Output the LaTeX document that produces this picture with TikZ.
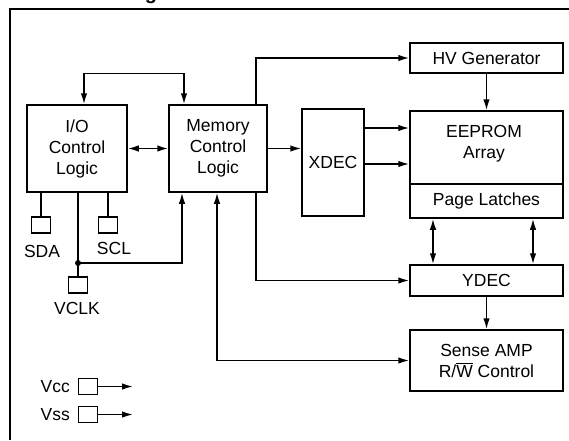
\documentclass[tikz,border=0pt]{standalone}
\usepackage{fontspec}
\setmainfont{Liberation Sans}
\usetikzlibrary{arrows.meta,positioning}

\tikzset{
  blk/.style={draw, inner sep=0pt, align=center},
  pinbox/.style={draw, minimum width=19pt, minimum height=16pt, inner sep=0pt},
}

\begin{document}
\begin{tikzpicture}[x=1pt, y=-1pt, line width=1.5pt,
    >={Latex[length=11pt,width=6.5pt]},
    font=\fontsize{17.5}{21}\selectfont]

  \useasboundingbox (0,0) rectangle (569,440);

  % ── Title and frame ───────────────────────────────────────────────────
  \node[anchor=base west, inner sep=0pt,
        font=\bfseries\fontsize{20}{24}\selectfont] (title) at (53,-1) {Block Diagram};
  \draw (10,440) -- (10,9) -- (569,9);

  % ── Logic blocks ──────────────────────────────────────────────────────
  \node[blk, minimum width=100pt, minimum height=87pt] (io)  at (77,148.5)  {I/O\\Control\\Logic};
  \node[blk, minimum width=98pt,  minimum height=87pt] (mem) at (218,148.5) {Memory\\Control\\Logic};
  \node[blk, minimum width=62pt,  minimum height=107pt] (xdec) at (333,162.5) {XDEC};

  % ── Array column ──────────────────────────────────────────────────────
  \node[blk, minimum width=153pt, minimum height=30pt] (hv)     at (486.5,58)    {HV Generator};
  \node[blk, minimum width=153pt, minimum height=73pt] (eeprom) at (486.5,147.5) {};
  \node[align=center] (eetext) at (484,143.5) {EEPROM\\Array};
  \node[blk, minimum width=153pt, minimum height=34pt] (latch)  at (486.5,201)   {Page Latches};
  \node[blk, minimum width=153pt, minimum height=31pt] (ydec)   at (486.5,280.5) {YDEC};
  \node[blk, minimum width=153pt, minimum height=61pt] (sense)  at (486.5,360.5)
    {Sense AMP\\R/\mbox{$\overline{\mbox{W}}$} Control};

  % ── Pins ──────────────────────────────────────────────────────────────
  \node[pinbox] (sda)  at (41,225) {};
  \node[pinbox] (scl)  at (108,225) {};
  \node[pinbox] (vclk) at (78,285) {};
  \node[pinbox] (vcc)  at (88,386.5) {};
  \node[pinbox] (vss)  at (88,414.5) {};

  \node (sdalbl)  at (42,251)  {SDA};
  \node (scllbl)  at (114,248) {SCL};
  \node (vclklbl) at (77,308)  {VCLK};
  \node[anchor=east] (vcclbl) at (74,387) {Vcc};
  \node[anchor=east] (vsslbl) at (74,415) {Vss};

  \coordinate (tap)    at (78,263);
  \coordinate (vccend) at (133,386.5);
  \coordinate (vssend) at (133,414.5);

  % ── Connections ───────────────────────────────────────────────────────
  \draw (io.south -| sda) -- (sda);
  \draw (io.south -| scl) -- (scl);
  \draw (io.south -| vclk) -- (vclk);
  \fill (tap) circle (3pt);
  \draw[->] (tap) -| ([xshift=-36pt]mem.south);

  \draw[<->] (io) -- (mem);
  \draw[<->] ([xshift=7pt]io.north) -- ++(0,-31) -| ([xshift=-34pt]mem.north);
  \draw[->] ([xshift=38pt]mem.north) |- (hv.west);
  \draw[->] (mem.east) -- (mem.east -| xdec.west);
  \draw[->] (xdec.east |- 0,128) -- (eeprom.west |- 0,128);
  \draw[->] (xdec.east |- 0,164) -- (eeprom.west |- 0,164);
  \draw[->] (hv) -- (eeprom);

  \draw[<->] (latch.south -| 433,0) -- (ydec.north -| 433,0);
  \draw[<->] (latch.south -| 533,0) -- (ydec.north -| 533,0);
  \draw[->] (ydec) -- (sense);
  \draw[->] ([xshift=38pt]mem.south) |- (ydec.west);
  \draw[<->] (sense.west) -| ([xshift=-1pt]mem.south);

  \draw[->] (vcc.east) -- (vccend);
  \draw[->] (vss.east) -- (vssend);

\end{tikzpicture}
\end{document}
